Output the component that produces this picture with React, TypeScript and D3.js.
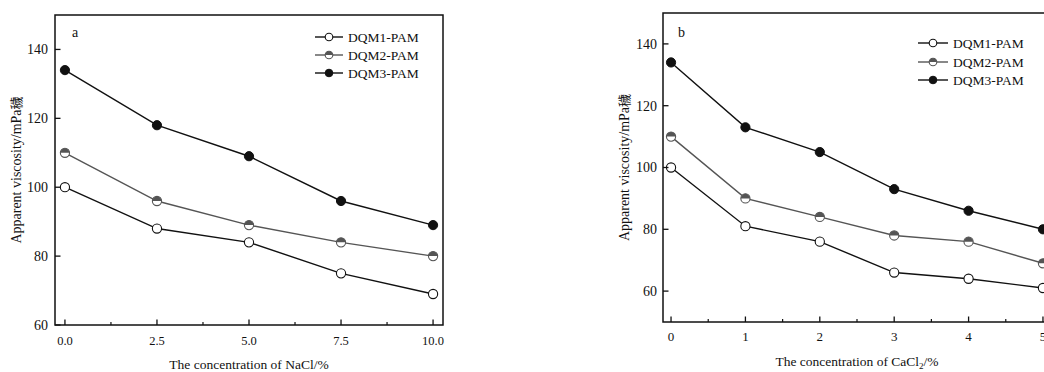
import React from "react";
import * as d3 from "d3";

// NaCl panel
const naclConc = [0, 2.5, 5, 7.5, 10];
const naclDQM1 = [100, 88, 84, 75, 69];
const naclDQM2 = [110, 96, 89, 84, 80];
const naclDQM3 = [134, 118, 109, 96, 89];
const naclXTicks = [0, 2.5, 5, 7.5, 10];
const naclXMinor = [1.25, 3.75, 6.25, 8.75];
const naclYTicks = [60, 80, 100, 120, 140];

// CaCl2 panel
const caclConc = [0, 1, 2, 3, 4, 5];
const caclDQM1 = [100, 81, 76, 66, 64, 61];
const caclDQM2 = [110, 90, 84, 78, 76, 69];
const caclDQM3 = [134, 113, 105, 93, 86, 80];
const caclXTicks = [0, 1, 2, 3, 4, 5];
const caclXMinor = [0.5, 1.5, 2.5, 3.5, 4.5];
const caclYTicks = [60, 80, 100, 120, 140];

const seriesNames = ["DQM1-PAM", "DQM2-PAM", "DQM3-PAM"];

const FONT = "'Liberation Serif', 'Times New Roman', serif";
const GREY = "#555";

type Kind = 0 | 1 | 2;

function Marker({ x, y, kind, r = 4.6 }: { x: number; y: number; kind: Kind; r?: number }) {
  if (kind === 0) {
    return <circle cx={x} cy={y} r={r} fill="#fff" stroke="#111" strokeWidth={1.1} />;
  }
  if (kind === 2) {
    return <circle cx={x} cy={y} r={r} fill="#111" stroke="#111" strokeWidth={1} />;
  }
  const top = `M${x - r},${y} A${r},${r} 0 0 1 ${x + r},${y} Z`;
  return (
    <g>
      <circle cx={x} cy={y} r={r} fill="#fff" stroke={GREY} strokeWidth={1.1} />
      <path d={top} fill={GREY} />
    </g>
  );
}

interface PanelProps {
  left: number;
  right: number;
  top: number;
  bottom: number;
  xDomain: [number, number];
  yDomain: [number, number];
  xs: number[];
  series: number[][];
  xTicks: number[];
  xMinor: number[];
  yTicks: number[];
  xFmt: (v: number) => string;
  xTickSize: number;
  xTickBaseline: number;
  yLabelX: number;
  yTitleX: number;
  xTitle: React.ReactNode;
  xTitleY: number;
  letter: string;
  letterX: number;
  legendX: number;
  legendY: number[];
  legendLine: number;
}

function Panel(p: PanelProps) {
  const x = d3.scaleLinear().domain(p.xDomain).range([p.left, p.right]);
  const y = d3.scaleLinear().domain(p.yDomain).range([p.bottom, p.top]);
  const line = d3
    .line<number>()
    .x((_, i) => x(p.xs[i]))
    .y((d) => y(d));
  const colors = ["#111", GREY, "#111"];
  const cx = (p.left + Math.min(p.right, 1044 + 10)) / 2;
  const yMid = (p.top + p.bottom) / 2;
  return (
    <g fontFamily={FONT} fill="#111">
      {p.series.map((s, si) => (
        <path key={si} d={line(s) || ""} fill="none" stroke={colors[si]} strokeWidth={1.4} />
      ))}
      {p.series.map((s, si) =>
        s.map((v, i) => <Marker key={`${si}-${i}`} x={x(p.xs[i])} y={y(v)} kind={si as Kind} />)
      )}
      <rect
        x={p.left}
        y={p.top}
        width={p.right - p.left}
        height={p.bottom - p.top}
        fill="none"
        stroke="#111"
        strokeWidth={1.5}
      />
      {p.xTicks.map((t) => (
        <g key={`xt${t}`}>
          <line x1={x(t)} x2={x(t)} y1={p.bottom} y2={p.bottom - 5.5} stroke="#111" strokeWidth={1.3} />
          <text x={x(t)} y={p.xTickBaseline} textAnchor="middle" fontSize={p.xTickSize}>
            {p.xFmt(t)}
          </text>
        </g>
      ))}
      {p.xMinor.map((t) => (
        <line key={`xm${t}`} x1={x(t)} x2={x(t)} y1={p.bottom} y2={p.bottom - 3} stroke="#111" strokeWidth={1.2} />
      ))}
      {p.yTicks.map((t) => (
        <g key={`yt${t}`}>
          <line x1={p.left} x2={p.left + 5.5} y1={y(t)} y2={y(t)} stroke="#111" strokeWidth={1.3} />
          <text x={p.yLabelX} y={y(t) + 4.8} textAnchor="end" fontSize={14}>
            {t}
          </text>
        </g>
      ))}
      <text
        transform={`translate(${p.yTitleX},${yMid}) rotate(-90)`}
        textAnchor="middle"
        fontSize={14}
      >
        Apparent viscosity/mPa
        <tspan fontFamily="'Noto Sans CJK SC', sans-serif" fontSize={13}>
          穢
        </tspan>
      </text>
      <text x={cx} y={p.xTitleY} textAnchor="middle" fontSize={13.5}>
        {p.xTitle}
      </text>
      <text x={p.letterX} y={37} fontSize={14}>
        {p.letter}
      </text>
      {seriesNames.map((name, si) => {
        const ly = p.legendY[si];
        const lx = p.legendX;
        return (
          <g key={name}>
            <line x1={lx} x2={lx + p.legendLine} y1={ly} y2={ly} stroke={colors[si]} strokeWidth={1.4} />
            <Marker x={lx + p.legendLine / 2} y={ly} kind={si as Kind} r={3.8} />
            <text x={lx + p.legendLine + 5} y={ly + 4.6} fontSize={13.5}>
              {name}
            </text>
          </g>
        );
      })}
    </g>
  );
}

export default function App() {
  return (
    <svg
      width={1044}
      height={372}
      style={{ position: "absolute", left: 0, top: 0, background: "#fff" }}
    >
      <rect width={1044} height={372} fill="#fff" />
      <Panel
        left={55}
        right={443}
        top={15}
        bottom={325}
        xDomain={[-0.27, 10.27]}
        yDomain={[60, 150]}
        xs={naclConc}
        series={[naclDQM1, naclDQM2, naclDQM3]}
        xTicks={naclXTicks}
        xMinor={naclXMinor}
        yTicks={naclYTicks}
        xFmt={(v) => v.toFixed(1)}
        xTickSize={12.5}
        xTickBaseline={345}
        yLabelX={48}
        yTitleX={21}
        xTitle="The concentration of NaCl/%"
        xTitleY={369}
        letter="a"
        letterX={72}
        legendX={315}
        legendY={[37, 55, 73]}
        legendLine={28}
      />
      <Panel
        left={663}
        right={1051}
        top={13}
        bottom={322}
        xDomain={[-0.108, 5.108]}
        yDomain={[50, 150]}
        xs={caclConc}
        series={[caclDQM1, caclDQM2, caclDQM3]}
        xTicks={caclXTicks}
        xMinor={caclXMinor}
        yTicks={caclYTicks}
        xFmt={(v) => String(v)}
        xTickSize={13}
        xTickBaseline={341}
        yLabelX={657}
        yTitleX={629}
        xTitle={
          <>
            The concentration of CaCl
            <tspan dy={3} fontSize={9}>
              2
            </tspan>
            <tspan dy={-3}>/%</tspan>
          </>
        }
        xTitleY={366}
        letter="b"
        letterX={678}
        legendX={918}
        legendY={[43, 62, 80]}
        legendLine={30}
      />
    </svg>
  );
}
